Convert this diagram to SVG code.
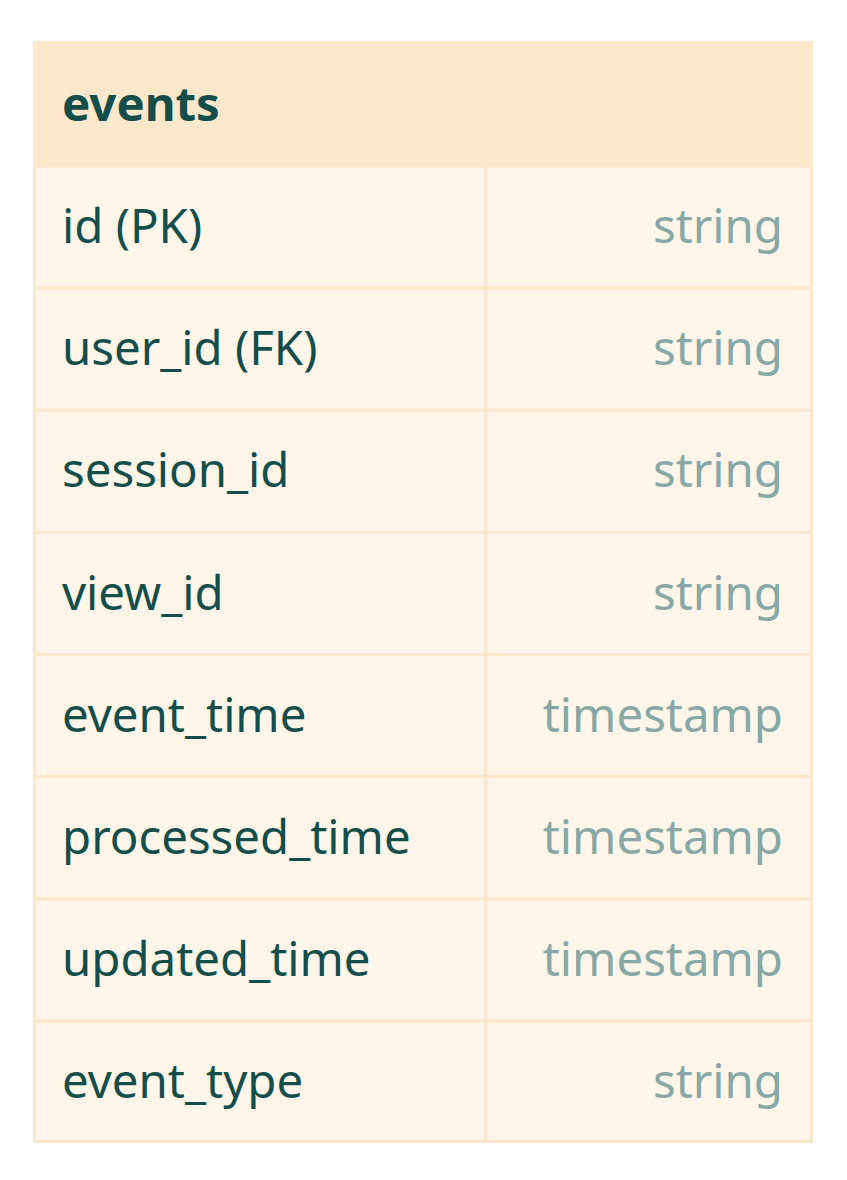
<svg xmlns="http://www.w3.org/2000/svg" width="847" height="1180" viewBox="0 0 847 1180">
<style>
.hdr{fill:#fee8cc}
.row{fill:#fff5e9}
.ln{stroke:#fde6cb;stroke-width:3;fill:none}
.t{font-family:"Noto Sans","Open Sans","DejaVu Sans",sans-serif;font-size:47.4px}
.title{fill:#134e4a;font-weight:bold}
.name{fill:#134e4a}
.type{fill:#88a8a6;text-anchor:end}
</style>
<rect width="847" height="1180" fill="#ffffff"/>
<g id="events">
<rect class="hdr" x="33" y="41" width="780" height="125"/>
<text class="t title" x="62" y="121">events</text>
<rect class="row" x="33" y="166" width="780" height="977"/>
<g class="ln">
<line x1="33" y1="288.1" x2="813" y2="288.1"/>
<line x1="33" y1="410.3" x2="813" y2="410.3"/>
<line x1="33" y1="532.4" x2="813" y2="532.4"/>
<line x1="33" y1="654.5" x2="813" y2="654.5"/>
<line x1="33" y1="776.6" x2="813" y2="776.6"/>
<line x1="33" y1="898.8" x2="813" y2="898.8"/>
<line x1="33" y1="1020.9" x2="813" y2="1020.9"/>
<line x1="485.5" y1="166" x2="485.5" y2="1143"/>
<rect x="34.5" y="166" width="777" height="975.5"/>
</g>
</g>
<g id="row-id"><text class="t name" x="62" y="243">id (PK)</text><text class="t type" x="783" y="243">string</text></g>
<g id="row-user_id"><text class="t name" x="62" y="365">user_id (FK)</text><text class="t type" x="783" y="365">string</text></g>
<g id="row-session_id"><text class="t name" x="62" y="487">session_id</text><text class="t type" x="783" y="487">string</text></g>
<g id="row-view_id"><text class="t name" x="62" y="610">view_id</text><text class="t type" x="783" y="610">string</text></g>
<g id="row-event_time"><text class="t name" x="62" y="732">event_time</text><text class="t type" x="783" y="732">timestamp</text></g>
<g id="row-processed_time"><text class="t name" x="62" y="854">processed_time</text><text class="t type" x="783" y="854">timestamp</text></g>
<g id="row-updated_time"><text class="t name" x="62" y="976">updated_time</text><text class="t type" x="783" y="976">timestamp</text></g>
<g id="row-event_type"><text class="t name" x="62" y="1098">event_type</text><text class="t type" x="783" y="1098">string</text></g>
<g id="connectors"></g>
</svg>
